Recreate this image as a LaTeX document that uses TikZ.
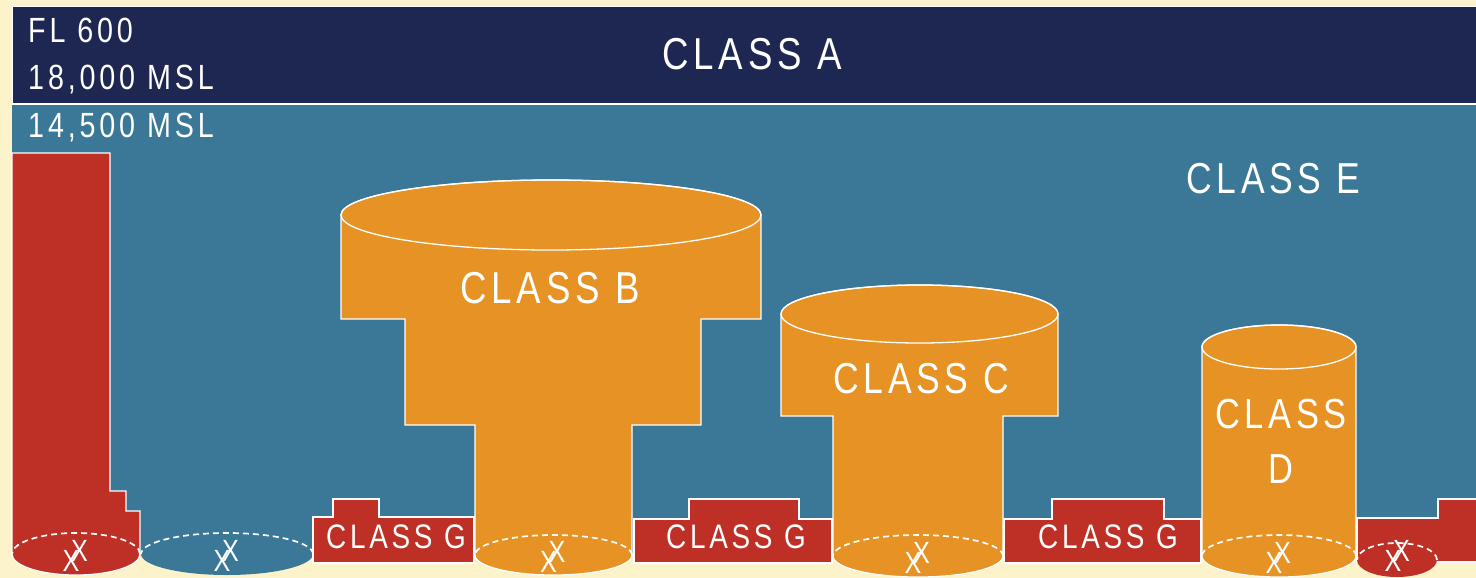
\documentclass[tikz,border=0pt]{standalone}
\usepackage{fontspec}
\setmainfont{Liberation Sans}[FakeStretch=0.82,LetterSpace=11]
\newfontfamily\xfont{Liberation Sans}[FakeStretch=0.82]
\definecolor{cream}{HTML}{FCF3CB}
\definecolor{navyband}{HTML}{1D2752}
\definecolor{skyteal}{HTML}{3B7897}
\definecolor{rd}{HTML}{BE3026}
\definecolor{orng}{HTML}{E69225}
\newcommand{\fsz}[1]{\fontsize{#1}{#1}\selectfont}
\tikzset{
  lbl/.style={text=white, inner sep=0pt, anchor=base},
  lblw/.style={text=white, inner sep=0pt, anchor=base west},
  xm/.style={text=white, inner sep=0pt, font=\xfont\fsz{30.7}},
  outl/.style={draw=white, line width=1.3pt},
  dsh/.style={draw=white, line width=1.7pt, dash pattern=on 6pt off 4pt},
  redshape/.style={fill=rd, draw=white, line width=1.2pt},
  orshape/.style={fill=orng, draw=white, line width=1.2pt},
}
\begin{document}
\begin{tikzpicture}[x=1pt,y=-1pt]
\fill[cream] (0,0) rectangle (1476,578);
\useasboundingbox (0,0) rectangle (1476,578);
% bands
\fill[skyteal] (12,104) rectangle (1476,554);
\fill[navyband] (12,6) rectangle (1476,103);
\draw[white,line width=0.6pt] (12,104) -- (12,6) -- (1476,6);
\draw[white,line width=1.5pt] (12,104) -- (1476,104);
% left red block
\path[redshape] (12,153) -- (110,153) -- (110,491) -- (126,491) -- (126,511) -- (140,511) -- (140,554)
  arc[start angle=0,end angle=-180,x radius=64pt,y radius=21pt] -- cycle;
\draw[dsh] (140,554) arc[start angle=0,end angle=180,x radius=64pt,y radius=21pt];
% teal ellipse
\fill[skyteal] (227,554) ellipse[x radius=86pt,y radius=21pt];
\draw[dsh] (313,554) arc[start angle=0,end angle=180,x radius=86pt,y radius=21pt];
% class G boxes
\path[redshape] (313,517) -- (333,517) -- (333,499) -- (379,499) -- (379,517) -- (474,517) -- (474,563) -- (313,563) -- cycle;
\path[redshape] (634,519) -- (689,519) -- (689,499) -- (799,499) -- (799,519) -- (832,519) -- (832,563) -- (634,563) -- cycle;
\path[redshape] (1004,519) -- (1052,519) -- (1052,499) -- (1164,499) -- (1164,519) -- (1201,519) -- (1201,563) -- (1004,563) -- cycle;
% right red
\path[redshape] (1357,518) -- (1438,518) -- (1438,499) -- (1478,499) -- (1478,562) -- (1357,562) -- cycle;
\fill[rd] (1397,560) ellipse[x radius=40pt,y radius=17pt];
\draw[dsh] (1437,560) arc[start angle=0,end angle=180,x radius=40pt,y radius=17pt];
% class B
\path[orshape] (341,215) -- (341,319) -- (405,319) -- (405,425) -- (475,425) -- (475,555)
  arc[start angle=180,end angle=360,x radius=78.5pt,y radius=20pt] -- (632,425) -- (701,425) -- (701,319) -- (761,319) -- (761,215)
  arc[start angle=0,end angle=180,x radius=210pt,y radius=35pt] -- cycle;
\draw[outl] (551,215) ellipse[x radius=210pt,y radius=35pt];
\draw[dsh] (632,555) arc[start angle=0,end angle=180,x radius=78.5pt,y radius=20pt];
% class C
\path[orshape] (781,314) -- (781,416) -- (833,416) -- (833,556)
  arc[start angle=180,end angle=360,x radius=85pt,y radius=21pt] -- (1003,416) -- (1058,416) -- (1058,314)
  arc[start angle=0,end angle=180,x radius=138.5pt,y radius=29pt] -- cycle;
\draw[outl] (919.5,314) ellipse[x radius=138.5pt,y radius=29pt];
\draw[dsh] (1003,556) arc[start angle=0,end angle=180,x radius=85pt,y radius=21pt];
% class D
\path[orshape] (1202,347) -- (1202,556)
  arc[start angle=180,end angle=360,x radius=77pt,y radius=21pt] -- (1356,347)
  arc[start angle=0,end angle=180,x radius=77pt,y radius=22pt] -- cycle;
\draw[outl] (1279,347) ellipse[x radius=77pt,y radius=22pt];
\draw[dsh] (1356,556) arc[start angle=0,end angle=180,x radius=77pt,y radius=21pt];
% labels
\node[lbl, font=\fsz{44.7}] (ca) at (752,70) {CLASS A};
\node[lblw, font=\fsz{35}] (fl) at (28,43) {FL 600};
\node[lblw, font=\fsz{35}] (m18) at (28,90) {18,000 MSL};
\node[lblw, font=\fsz{35}] (m14) at (28,137) {14,500 MSL};
\node[lbl, font=\fsz{43.3}] (ce) at (1273,193) {CLASS E};
\node[lbl, font=\fsz{44.7}] (cb) at (550,303) {CLASS B};
\node[lbl, font=\fsz{43.3}] (cc) at (921,393) {CLASS C};
\node[lbl, font=\fsz{42}] (cd1) at (1281,428) {CLASS};
\node[lbl, font=\fsz{42}] (cd2) at (1281,483) {D};
\node[lbl, font=\fsz{34}] (g1) at (396,548) {CLASS G};
\node[lbl, font=\fsz{34}] (g2) at (736,548) {CLASS G};
\node[lbl, font=\fsz{34}] (g3) at (1108,548) {CLASS G};
% X marks
\foreach \n/\cx/\cy in {a/76/554, b/227/554, c/553.5/555, d/918/556, e/1279/556, f/1398/554}{
  \node[xm] (xl\n) at (\cx-5,\cy+6.5) {X};
  \node[xm] (xu\n) at (\cx+3.5,\cy-3.5) {X};
}
\end{tikzpicture}
\end{document}
